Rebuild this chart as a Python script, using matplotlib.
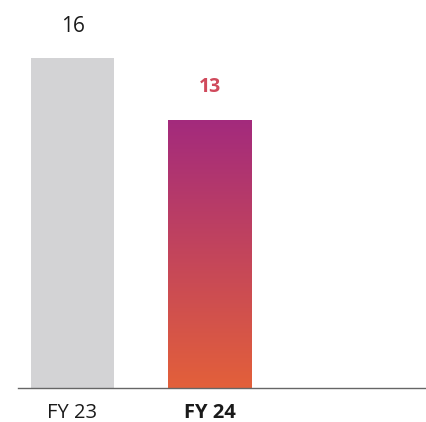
import numpy as np
import matplotlib.pyplot as plt
from matplotlib.colors import LinearSegmentedColormap

plt.rcParams['font.family'] = ['Open Sans', 'DejaVu Sans']

labels = ['FY 23', 'FY 24']
values = [16, 13]

grey = '#d3d3d5'
grad = LinearSegmentedColormap.from_list('fy', ['#e3603a', '#a32a7d'])

fig = plt.figure(figsize=(4.26, 4.22), dpi=100)
ax = fig.add_axes([18 / 426, 34 / 422, 1 - 18 / 426, 388 / 422])

x = np.arange(len(values))
bars = ax.bar(x, values, width=0.606, color=[grey, 'none'], linewidth=0)

# vertical gradient fill for the current year bar
b = bars[1]
bx, by = b.get_x(), b.get_y()
bw, bh = b.get_width(), b.get_height()
img = ax.imshow(np.linspace(0, 1, 256).reshape(-1, 1), cmap=grad, origin='lower',
                aspect='auto', extent=[bx, bx + bw, by, by + bh], zorder=2)
img.set_clip_path(b)

ax.set_xlim(-0.398, 2.58)
ax.set_ylim(0, 18.81)

ax.annotate(str(values[0]), (x[0], values[0]), xytext=(0, 23), textcoords='offset points',
            ha='center', va='center', fontsize=15, color='#1a1a1a')
ax.annotate(str(values[1]), (x[1], values[1]), xytext=(0, 23.5), textcoords='offset points',
            ha='center', va='center', fontsize=14, color='#d04a5c', fontweight='bold')

ax.set_xticks(x)
ax.set_xticklabels(labels, fontsize=14.5, color='#1a1a1a')
ax.get_xticklabels()[1].set_fontweight('bold')
ax.tick_params(axis='x', length=0, pad=11)
ax.set_yticks([])

for s in ['top', 'right', 'left']:
    ax.spines[s].set_visible(False)
ax.spines['bottom'].set_color('#666666')
ax.spines['bottom'].set_linewidth(1)

fig.savefig('out.png', dpi=100)
